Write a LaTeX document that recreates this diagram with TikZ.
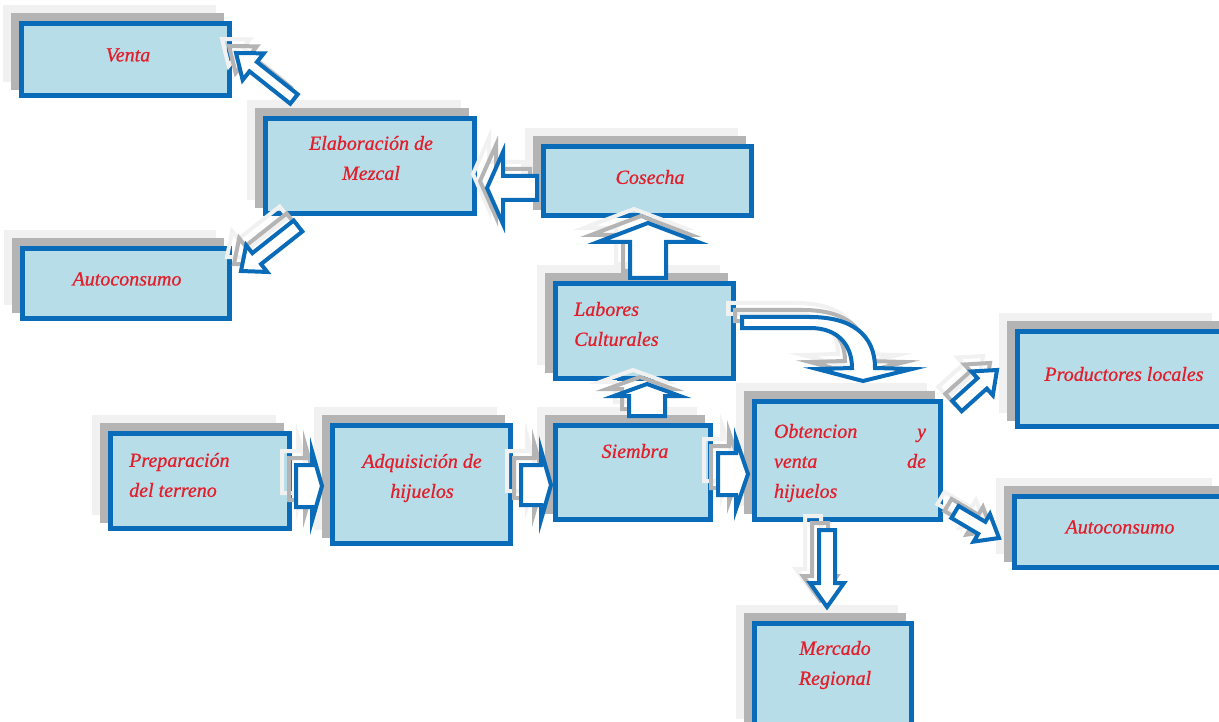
\documentclass[tikz,border=0pt]{standalone}
\usepackage{fontspec}
\setmainfont{Liberation Serif}
\newfontfamily\lblfont{Liberation Serif}[ItalicFeatures={FakeBold=0.7}]
\usetikzlibrary{calc,shadows}
\definecolor{boxblue}{HTML}{0A6CB8}
\definecolor{boxfill}{HTML}{B6DDE8}
\definecolor{txtred}{HTML}{E31E2A}
\definecolor{shgray}{HTML}{B4B4B4}
\definecolor{shlight}{HTML}{F1F1F1}
\tikzset{
  box/.style={draw=boxblue, line width=5pt, fill=boxfill, inner sep=0pt,
    general shadow={shadow xshift=-16pt, shadow yshift=16pt, fill=shlight, draw=shlight, line width=5pt},
    general shadow={shadow xshift=-8pt, shadow yshift=8pt, fill=shgray, draw=shgray, line width=5pt}},
  txt/.style={font=\lblfont\fontsize{20}{30}\selectfont\itshape, text=txtred, inner sep=0pt},
  arrmain/.style={draw=boxblue, line width=4pt, fill=white, line join=miter},
  arrshadow/.style={draw=shgray, line width=4pt, line join=miter},
  arrshadowlight/.style={draw=shlight, line width=4pt, line join=miter}
}
\newcommand\blockarr[5]{% tail, tip, shaft half width, head half width, head length
  \coordinate (tmpN) at ($(#2)!#5pt!(#1)$);
  \foreach \sx/\sy/\st in {-14/14/arrshadowlight,-7/7/arrshadow,0/0/arrmain}{
    \draw[\st, transform canvas={xshift=\sx pt, yshift=\sy pt}]
      ($(#1)!#3pt!90:(#2)$) -- ($(tmpN)!#3pt!90:(#2)$) -- ($(tmpN)!#4pt!90:(#2)$)
      -- (#2) -- ($(tmpN)!#4pt!-90:(#2)$) -- ($(tmpN)!#3pt!-90:(#2)$)
      -- ($(#1)!#3pt!-90:(#2)$) -- cycle;
  }
}
\begin{document}
\begin{tikzpicture}[x={(1pt,0)}, y={(0,-1pt)}]
\path[use as bounding box, fill=white] (0,0) rectangle (1219,722);

% boxes
\node[box, minimum width=208, minimum height=72] (venta) at (125.5,59.5) {};
\node[box, minimum width=209, minimum height=95] (elab) at (370,166) {};
\node[box, minimum width=208, minimum height=69] (cosecha) at (647.5,181) {};
\node[box, minimum width=207, minimum height=70] (autoL) at (126,283.5) {};
\node[box, minimum width=178, minimum height=95] (labores) at (644.5,331) {};
\node[box, minimum width=179, minimum height=95] (prep) at (200,481) {};
\node[box, minimum width=178, minimum height=118] (adq) at (421.5,484.5) {};
\node[box, minimum width=155, minimum height=94] (siembra) at (633,472.5) {};
\node[box, minimum width=186, minimum height=118] (obt) at (847.5,460.5) {};
\node[box, minimum width=208, minimum height=95] (prod) at (1121.5,379) {};
\node[box, minimum width=211, minimum height=71] (autoR) at (1120,532) {};
\node[box, minimum width=157, minimum height=109] (merc) at (833,678) {};

% texts
\node[txt] (tventa) at (128,55) {Venta};
\node[txt, align=center] (telab) at (371,158) {Elaboración de\\Mezcal};
\node[txt] (tcosecha) at (650,177) {Cosecha};
\node[txt] (tautoL) at (127,279) {Autoconsumo};
\node[txt, align=left, anchor=west] (tlab) at (574,324) {Labores\\Culturales};
\node[txt, align=left, anchor=west] (tprep) at (129,475) {Preparación\\del terreno};
\node[txt, align=center] (tadq) at (422,478) {Adquisición de\\hijuelos};
\node[txt] (tsiembra) at (635,451) {Siembra};
\node[txt, align=left, text width=152pt] (tobt) at (850,463) {Obtencion\hfill y\\venta\hfill de\\hijuelos};
\node[txt] (tprod) at (1124,374) {Productores locales};
\node[txt] (tautoR) at (1120,527) {Autoconsumo};
\node[txt, align=center] (tmerc) at (835,665) {Mercado\\Regional};

% arrow end points
\coordinate (a1t) at (294,99);  \coordinate (a1h) at (236,53);
\coordinate (a2t) at (298,226); \coordinate (a2h) at (241,271);
\coordinate (a3t) at (537,188); \coordinate (a3h) at (487,188);
\coordinate (a4t) at (648,278); \coordinate (a4h) at (648,223);
\coordinate (a5t) at (647,416); \coordinate (a5h) at (647,384);
\coordinate (a7t) at (296,486); \coordinate (a7h) at (322,486);
\coordinate (a8t) at (521,485); \coordinate (a8h) at (551,485);
\coordinate (a9t) at (718,474); \coordinate (a9h) at (748,474);
\coordinate (a10t) at (957,406); \coordinate (a10h) at (997,370);
\coordinate (a11t) at (955,512); \coordinate (a11h) at (999,538);
\coordinate (a12t) at (827,530); \coordinate (a12h) at (827,607);

\blockarr{a1t}{a1h}{6}{17}{22}
\blockarr{a2t}{a2h}{7}{17}{20}
\blockarr{a3t}{a3h}{12}{36}{16}
\blockarr{a4t}{a4h}{18}{50}{19}
\blockarr{a5t}{a5h}{18}{33}{12}
\blockarr{a7t}{a7h}{21}{35}{10}
\blockarr{a8t}{a8h}{20}{35}{10}
\blockarr{a9t}{a9h}{21}{35}{12}
\blockarr{a10t}{a10h}{7}{16}{20}
\blockarr{a11t}{a11h}{7}{16}{20}
\blockarr{a12t}{a12h}{8}{17}{24}

% curved arrow from Labores to Obtencion
\coordinate (cst) at (742,317);
\foreach \sx/\sy/\st in {-14/14/arrshadowlight,-7/7/arrshadow,0/0/arrmain}{
  \draw[\st, transform canvas={xshift=\sx pt, yshift=\sy pt}]
    (cst) -- (810,317) .. controls (852,317) and (875,335) .. (875,368)
    -- (912,369) -- (863,381) -- (817,369) -- (852,368)
    .. controls (852,345) and (838,328) .. (810,328) -- (742,328) -- cycle;
}
\end{tikzpicture}
\end{document}
